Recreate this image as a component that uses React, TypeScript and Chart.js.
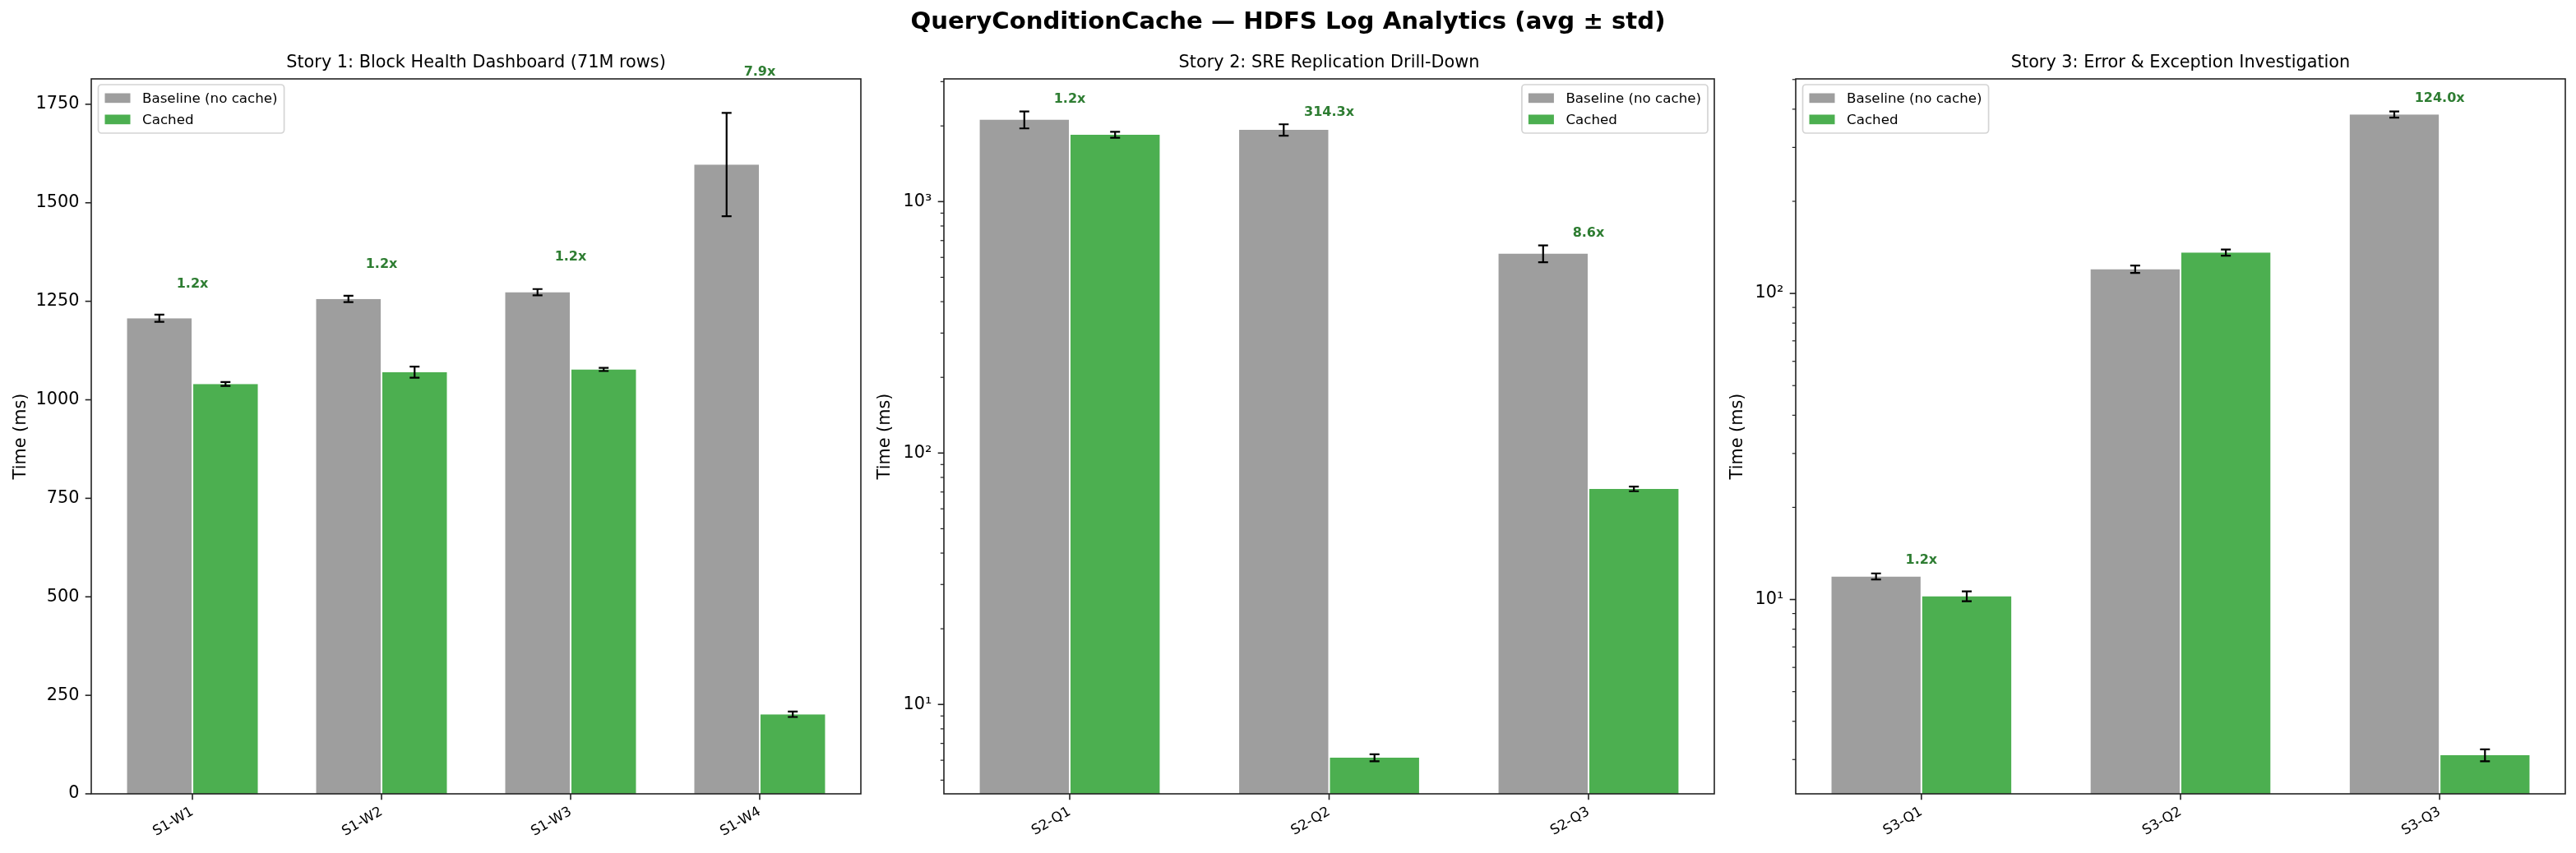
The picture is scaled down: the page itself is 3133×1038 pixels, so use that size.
import { useEffect, useRef } from 'react';
import { Chart, registerables } from 'chart.js';

Chart.register(...registerables);

const FONT = '"DejaVu Sans", Verdana, sans-serif';
const GRAY = '#9e9e9e';
const GREEN = '#4caf50';
const SPEEDUP_GREEN = '#2e7d32';
const SPINE = '#222222';

// Story 1: Block Health Dashboard (linear axis)
const s1Queries = ['S1-W1', 'S1-W2', 'S1-W3', 'S1-W4'];
const s1Baseline = [1207, 1256, 1273, 1597];
const s1BaselineStd = [9, 8, 8, 131];
const s1Cached = [1040, 1070, 1077, 202];
const s1CachedStd = [5, 14, 4, 7];
const s1Speedup = ['1.2x', '1.2x', '1.2x', '7.9x'];
const s1YTicks = [0, 250, 500, 750, 1000, 1250, 1500, 1750];

// Story 2: SRE Replication Drill-Down (log axis)
const s2Queries = ['S2-Q1', 'S2-Q2', 'S2-Q3'];
const s2Baseline = [2120, 1930, 622];
const s2BaselineStd = [165, 100, 48];
const s2Cached = [1845, 6.14, 72];
const s2CachedStd = [50, 0.2, 1.5];
const s2Speedup = ['1.2x', '314.3x', '8.6x'];
const s2YTicks = [10, 100, 1000];

// Story 3: Error & Exception Investigation (log axis)
const s3Queries = ['S3-Q1', 'S3-Q2', 'S3-Q3'];
const s3Baseline = [11.9, 120, 384.4];
const s3BaselineStd = [0.27, 3.3, 9];
const s3Cached = [10.25, 136, 3.1];
const s3CachedStd = [0.38, 3.2, 0.14];
const s3Speedup = ['1.2x', '', '124.0x'];
const s3YTicks = [10, 100];

const SUP = '⁰¹²³⁴⁵⁶⁷⁸⁹';

function logLabel(v: number, majors: number[]) {
  if (!majors.some((m) => Math.abs(m - v) < 1e-9 * m)) return '';
  const k = Math.round(Math.log10(v));
  return '10' + String(k).split('').map((d) => SUP[Number(d)]).join('');
}

function logTicks(min: number, max: number) {
  const out: number[] = [];
  for (let k = Math.floor(Math.log10(min)); k <= Math.ceil(Math.log10(max)); k++) {
    for (let m = 1; m <= 9; m++) {
      const v = m * Math.pow(10, k);
      if (v >= min && v <= max) out.push(v);
    }
  }
  return out;
}

interface PanelProps {
  title: string;
  queries: string[];
  baseline: number[];
  baselineStd: number[];
  cached: number[];
  cachedStd: number[];
  speedup: string[];
  yTicks: number[];
  log: boolean;
  legendRight: boolean;
  left: number;
  width: number;
  axisWidth: number;
  padRight: number;
  ylabelGap: number;
}

function Panel(p: PanelProps) {
  const canvasRef = useRef<HTMLCanvasElement>(null);
  const chartRef = useRef<Chart | null>(null);

  useEffect(() => {
    const ctx = canvasRef.current?.getContext('2d');
    if (!ctx) return;

    const n = p.queries.length;
    const tops = p.queries.map((_, i) =>
      Math.max(p.baseline[i] + p.baselineStd[i], p.cached[i] + p.cachedStd[i]),
    );
    const hi = Math.max(...tops);
    let yMin = 0;
    let yMax = hi * 1.05;
    if (p.log) {
      const lows = [
        ...p.baseline.map((v, i) => v - p.baselineStd[i]),
        ...p.cached.map((v, i) => v - p.cachedStd[i]),
      ];
      const l = Math.log10(Math.min(...lows));
      const h = Math.log10(hi);
      const m = (h - l) * 0.05;
      yMin = Math.pow(10, l - m);
      yMax = Math.pow(10, h + m);
    }
    const xPad = 0.05 * (n - 1 + 0.7);
    const yTickValues = p.log ? logTicks(yMin, yMax) : p.yTicks;

    const decor = {
      id: 'decor',
      afterDatasetsDraw(chart: Chart) {
        const c = chart.ctx;
        const y = chart.scales.y;
        const series: [number[], number[]][] = [
          [p.baseline, p.baselineStd],
          [p.cached, p.cachedStd],
        ];
        c.save();
        c.strokeStyle = '#000';
        c.lineWidth = 2.2;
        series.forEach(([vals, errs], di) => {
          chart.getDatasetMeta(di).data.forEach((el: any, i: number) => {
            const t = y.getPixelForValue(vals[i] + errs[i]);
            const b = y.getPixelForValue(vals[i] - errs[i]);
            c.beginPath();
            c.moveTo(el.x, t);
            c.lineTo(el.x, b);
            c.moveTo(el.x - 6, t);
            c.lineTo(el.x + 6, t);
            c.moveTo(el.x - 6, b);
            c.lineTo(el.x + 6, b);
            c.stroke();
          });
        });
        c.restore();
      },
      afterDraw(chart: Chart) {
        const c = chart.ctx;
        const a = chart.chartArea;
        const x = chart.scales.x;
        const y = chart.scales.y;
        c.save();

        // speedup annotations
        c.font = `bold 16px ${FONT}`;
        c.fillStyle = SPEEDUP_GREEN;
        c.textAlign = 'center';
        c.textBaseline = 'bottom';
        p.speedup.forEach((s, i) => {
          if (!s) return;
          c.fillText(s, x.getPixelForValue(i), y.getPixelForValue(tops[i] * 1.05));
        });

        // spines
        c.strokeStyle = SPINE;
        c.lineWidth = 1.6;
        c.strokeRect(a.left, a.top, a.right - a.left, a.bottom - a.top);

        // tick marks
        y.ticks.forEach((t) => {
          const major = !p.log || p.yTicks.some((m) => Math.abs(m - t.value) < 1e-9 * m);
          const py = y.getPixelForValue(t.value);
          c.lineWidth = major ? 1.6 : 1.2;
          c.beginPath();
          c.moveTo(a.left, py);
          c.lineTo(a.left - (major ? 7.3 : 4.2), py);
          c.stroke();
        });
        c.lineWidth = 1.6;
        x.ticks.forEach((t) => {
          const px = x.getPixelForValue(t.value);
          c.beginPath();
          c.moveTo(px, a.bottom);
          c.lineTo(px, a.bottom + 7.3);
          c.stroke();
        });

        // subplot title
        c.fillStyle = '#000';
        c.font = `20.8px ${FONT}`;
        c.textAlign = 'center';
        c.textBaseline = 'alphabetic';
        c.fillText(p.title, (a.left + a.right) / 2, 82);

        // y axis label
        c.save();
        c.translate(a.left - p.ylabelGap, (a.top + a.bottom) / 2);
        c.rotate(-Math.PI / 2);
        c.textBaseline = 'middle';
        c.fillText('Time (ms)', 0, 0);
        c.restore();

        // legend
        const entries: [string, string][] = [
          ['Baseline (no cache)', GRAY],
          ['Cached', GREEN],
        ];
        c.font = `16.7px ${FONT}`;
        const tw = Math.max(...entries.map(([l]) => c.measureText(l).width));
        const w = 53.5 + tw + 8;
        const h = 59;
        const lx = p.legendRight ? a.right - 8 - w : a.left + 8.5;
        const ly = a.top + 7;
        c.beginPath();
        c.roundRect(lx, ly, w, h, 4);
        c.fillStyle = 'rgba(255,255,255,0.8)';
        c.fill();
        c.strokeStyle = '#d4d4d4';
        c.lineWidth = 1.7;
        c.stroke();
        c.textAlign = 'left';
        c.textBaseline = 'middle';
        entries.forEach(([label, color], i) => {
          const cy = ly + 16.3 + i * 26;
          c.fillStyle = color;
          c.fillRect(lx + 8, cy - 5.8, 31, 11.7);
          c.fillStyle = '#000';
          c.fillText(label, lx + 53.5, cy + 1);
        });

        c.restore();
      },
    };

    const barStyle = {
      borderColor: '#ffffff',
      borderWidth: { left: 1, right: 1, top: 0, bottom: 0 },
      categoryPercentage: 0.7,
      barPercentage: 1.0,
    };

    chartRef.current?.destroy();
    chartRef.current = new Chart(ctx, {
      type: 'bar',
      data: {
        datasets: [
          {
            label: 'Baseline (no cache)',
            data: p.baseline.map((v, i) => ({ x: i, y: v })),
            backgroundColor: GRAY,
            ...barStyle,
          },
          {
            label: 'Cached',
            data: p.cached.map((v, i) => ({ x: i, y: v })),
            backgroundColor: GREEN,
            ...barStyle,
          },
        ],
      },
      options: {
        animation: false,
        responsive: true,
        maintainAspectRatio: false,
        layout: { padding: { top: 96, left: 0, right: p.padRight, bottom: 0 } },
        plugins: {
          legend: { display: false },
          title: { display: false },
          tooltip: { enabled: false },
        },
        scales: {
          x: {
            type: 'linear',
            bounds: 'data',
            min: -0.35 - xPad,
            max: n - 1 + 0.35 + xPad,
            offset: false,
            grid: { display: false, drawTicks: false, offset: false },
            border: { display: false },
            afterBuildTicks: (s: any) => {
              s.ticks = p.queries.map((_, i) => ({ value: i }));
            },
            afterFit: (s: any) => {
              s.height = 72;
            },
            ticks: {
              autoSkip: false,
              minRotation: 30,
              maxRotation: 30,
              padding: 12,
              color: '#000',
              font: { family: FONT, size: 16.7 },
              callback: (v: any) => p.queries[Math.round(Number(v))] ?? '',
            },
          },
          y: {
            type: p.log ? 'logarithmic' : 'linear',
            bounds: 'data',
            min: yMin,
            max: yMax,
            grid: { display: false, drawTicks: false },
            border: { display: false },
            afterBuildTicks: (s: any) => {
              s.ticks = yTickValues.map((v) => ({ value: v }));
            },
            afterFit: (s: any) => {
              s.width = p.axisWidth;
            },
            ticks: {
              autoSkip: false,
              padding: 14.6,
              color: '#000',
              font: { family: FONT, size: 20.8 },
              callback: (v: any) => (p.log ? logLabel(Number(v), p.yTicks) : String(v)),
            },
          },
        },
      } as any,
      plugins: [decor],
    });

    return () => {
      chartRef.current?.destroy();
      chartRef.current = null;
    };
  }, [p]);

  return (
    <div style={{ position: 'absolute', left: p.left, top: 0, width: p.width, height: 1038 }}>
      <canvas ref={canvasRef} />
    </div>
  );
}

export default function App() {
  return (
    <div
      style={{
        position: 'absolute',
        left: 0,
        top: 0,
        width: 3133,
        height: 1038,
        background: '#fff',
        overflow: 'hidden',
      }}
    >
      <div
        style={{
          position: 'absolute',
          left: 0,
          top: 10.5,
          width: 3133,
          textAlign: 'center',
          font: `bold 29.17px ${FONT}`,
          lineHeight: '29px',
          color: '#000',
          zIndex: 1,
        }}
      >
        QueryConditionCache — HDFS Log Analytics (avg ± std)
      </div>
      <Panel
        title="Story 1: Block Health Dashboard (71M rows)"
        queries={s1Queries}
        baseline={s1Baseline}
        baselineStd={s1BaselineStd}
        cached={s1Cached}
        cachedStd={s1CachedStd}
        speedup={s1Speedup}
        yTicks={s1YTicks}
        log={false}
        legendRight={false}
        left={0}
        width={1050}
        axisWidth={111}
        padRight={3}
        ylabelGap={85}
      />
      <Panel
        title="Story 2: SRE Replication Drill-Down"
        queries={s2Queries}
        baseline={s2Baseline}
        baselineStd={s2BaselineStd}
        cached={s2Cached}
        cachedStd={s2CachedStd}
        speedup={s2Speedup}
        yTicks={s2YTicks}
        log={true}
        legendRight={true}
        left={1050}
        width={1045}
        axisWidth={98}
        padRight={10}
        ylabelGap={71}
      />
      <Panel
        title="Story 3: Error & Exception Investigation"
        queries={s3Queries}
        baseline={s3Baseline}
        baselineStd={s3BaselineStd}
        cached={s3Cached}
        cachedStd={s3CachedStd}
        speedup={s3Speedup}
        yTicks={s3YTicks}
        log={true}
        legendRight={false}
        left={2095}
        width={1038}
        axisWidth={89}
        padRight={13}
        ylabelGap={70}
      />
    </div>
  );
}
